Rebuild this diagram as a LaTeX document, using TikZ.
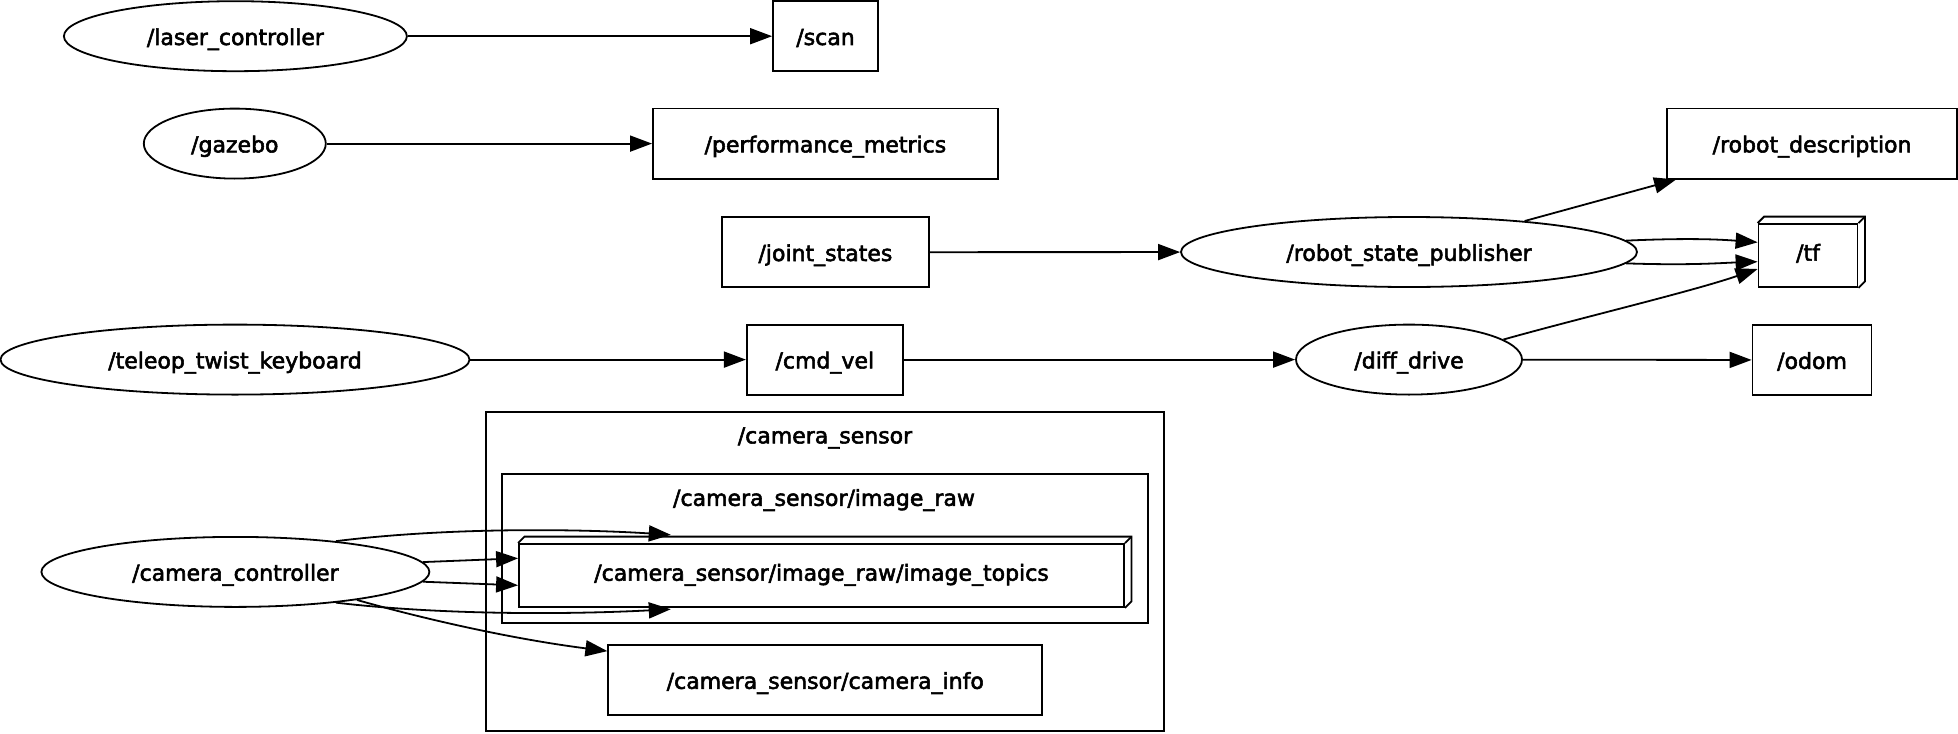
\documentclass[tikz,border=0pt]{standalone}
\usepackage{fontspec}
\setmainfont{DejaVu Sans}
\newfontfamily\graphfont[FakeBold=2.5]{DejaVu Sans}
\usetikzlibrary{arrows.meta,calc,shapes.geometric}

\tikzset{
  rosnode/.style={draw, ellipse, line width=1.8pt, inner sep=0pt, minimum height=70pt, text height=17.6pt, text depth=0pt, font=\graphfont\fontsize{22}{26}\selectfont},
  topic/.style={draw, rectangle, line width=1.8pt, inner sep=0pt, minimum height=70pt, text height=17.6pt, text depth=0pt, font=\graphfont\fontsize{22}{26}\selectfont},
  flat/.style={draw, rectangle, line width=1.8pt, inner sep=0pt, minimum height=63pt, text height=10.4pt, text depth=0pt, font=\graphfont\fontsize{22}{26}\selectfont},
  link/.style={line width=1.8pt, -{Triangle[length=22pt,width=16pt]}},
  frame/.style={line width=1.8pt},
  caption/.style={inner sep=0pt, text height=17.6pt, text depth=0pt, font=\graphfont\fontsize{22}{26}\selectfont}
}

\begin{document}
\begin{tikzpicture}[x=1pt, y=-1pt]
    % 奥行きの定義
    \def\dep{6.5}

    % 描画範囲
    \useasboundingbox (0,0) rectangle (1958,733);

    % クラスタの枠
    \draw[frame] (486,412.3) rectangle (1164.3,731);
    \draw[frame] (502.3,474) rectangle (1148.3,623.3);
    \node[caption] (camsensor) at (825,434.6) {/camera\_sensor};
    \node[caption] (imageraw) at (824,497) {/camera\_sensor/image\_raw};

    % ノード (楕円)
    \node[rosnode, minimum width=343pt] (laser) at (235.4,36.2) {/laser\_controller};
    \node[rosnode, minimum width=182pt] (gazebo) at (234.8,143.6) {/gazebo};
    \node[rosnode, minimum width=456pt] (rsp) at (1409,252) {/robot\_state\_publisher};
    \node[rosnode, minimum width=469pt] (teleop) at (235,359.6) {/teleop\_twist\_keyboard};
    \node[rosnode, minimum width=226pt] (diff) at (1409,359.6) {/diff\_drive};
    \node[rosnode, minimum width=388pt] (camctrl) at (235.4,571.9) {/camera\_controller};

    % トピック (四角)
    \node[topic, minimum width=105pt] (scan) at (825.5,36.2) {/scan};
    \node[topic, minimum width=345pt] (perf) at (825.4,143.6) {/performance\_metrics};
    \node[topic, minimum width=207pt] (joint) at (825.4,252.2) {/joint\_states};
    \node[topic, minimum width=156pt] (cmdvel) at (824.8,359.6) {/cmd\_vel};
    \node[topic, minimum width=290pt] (robotdesc) at (1812,143.6) {/robot\_description};
    \node[topic, minimum width=119pt] (odom) at (1812,360) {/odom};
    \node[topic, minimum width=434pt] (caminfo) at (825.3,680) {/camera\_sensor/camera\_info};

    % 立体の箱
    \node[flat, minimum width=99pt] (tf) at (1808,255.5) {/tf};
    \draw[frame] (tf.north west) -- ++(\dep,-\dep) -| ($(tf.south east)+(\dep,-\dep)$) -- (tf.south east);
    \draw[frame] (tf.north east) -- ++(\dep,-\dep);
    \node[flat, minimum width=605pt] (topics) at (821.5,575.5) {/camera\_sensor/image\_raw/image\_topics};
    \draw[frame] (topics.north west) -- ++(\dep,-\dep) -| ($(topics.south east)+(\dep,-\dep)$) -- (topics.south east);
    \draw[frame] (topics.north east) -- ++(\dep,-\dep);

    % 直線の矢印
    \draw[link] (laser) -- (scan);
    \draw[link] (gazebo) -- (perf);
    \draw[link] (joint) -- (rsp);
    \draw[link] (teleop) -- (cmdvel);
    \draw[link] (cmdvel) -- (diff);
    \draw[link] (diff) -- (odom);
    \draw[link] (rsp.15) -- ($(robotdesc.south west)+(10,0)$);

    % /tf への矢印
    \draw[link] (rsp.3.85) .. controls (1690,237.8) and (1720,239.5) .. ($(tf.west)+(0,-13.2)$);
    \draw[link] (rsp.-3.85) .. controls (1690,265.5) and (1720,263) .. ($(tf.west)+(0,6.2)$);
    \draw[link] (diff.12.7) .. controls (1580,318) and (1690,292) .. ($(tf.west)+(0,13.5)$);

    % カメラの矢印
    \draw[link] (camctrl.17.7) .. controls (450,527) and (580,529) .. ($(topics.north west)+(152.7,-8.3)$);
    \draw[link] (camctrl.3.5) -- ($(topics.west)+(0,-17.2)$);
    \draw[link] (camctrl.-3.5) -- ($(topics.west)+(0,9.8)$);
    \draw[link] (camctrl.-17.7) .. controls (450,616) and (580,614) .. ($(topics.south west)+(152.7,1.3)$);
    \draw[link] (camctrl.-13.8) .. controls (435,622) and (520,640) .. ($(caminfo.north west)+(0,7)$);

  \end{tikzpicture}
\end{document}
